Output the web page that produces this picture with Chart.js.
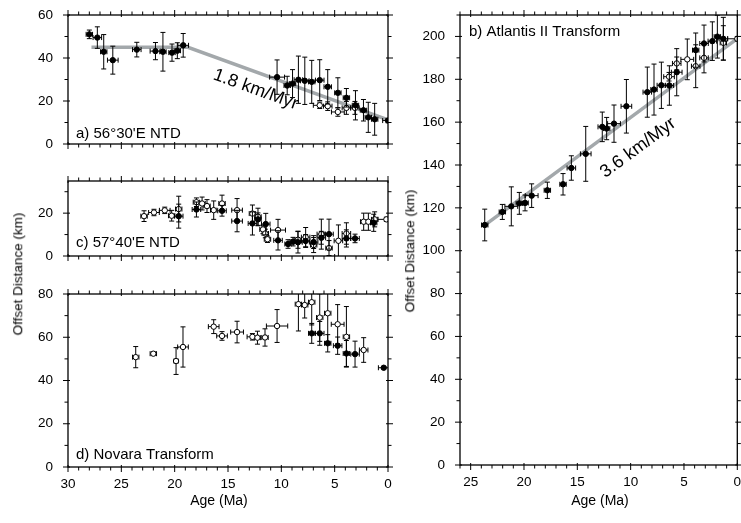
<!DOCTYPE html>
<html>
<head>
<meta charset="utf-8">
<script src="https://cdn.jsdelivr.net/npm/chart.js@4.4.0/dist/chart.umd.min.js"></script>
<style>
  html, body { margin: 0; padding: 0; background: #fff; }
  body { position: relative; width: 741px; height: 523px; overflow: hidden;
         font-family: "Liberation Sans", Arial, Helvetica, sans-serif; color: #000; }
  canvas { position: absolute; }
  .axis-title { position: absolute; white-space: nowrap; font-size: 14px; line-height: 1;
                transform: translate(-50%, -50%); }
  .axis-title.vertical { transform: translate(-50%, -50%) rotate(-90deg); font-size: 13.5px; }
</style>
</head>
<body>
<canvas id="chartA" width="400" height="150" style="left:0;top:0"></canvas>
<canvas id="chartC" width="400" height="95" style="left:0;top:170px"></canvas>
<canvas id="chartD" width="400" height="243" style="left:0;top:280px"></canvas>
<canvas id="chartB" width="341" height="523" style="left:400px;top:0"></canvas>

<div class="axis-title vertical" style="left:18px;top:274px">Offset Distance (km)</div>
<div class="axis-title vertical" style="left:410px;top:251px">Offset Distance (km)</div>
<div class="axis-title" style="left:219px;top:500px">Age (Ma)</div>
<div class="axis-title" style="left:600px;top:500px">Age (Ma)</div>

<script>
// ---------- tick labels ----------
const leftAgeTicks  = [30, 25, 20, 15, 10, 5, 0];
const rightAgeTicks = [25, 20, 15, 10, 5, 0];
const aOffsetTicks  = [0, 20, 40, 60];
const cOffsetTicks  = [0, 20];
const dOffsetTicks  = [0, 20, 40, 60, 80];
const bOffsetTicks  = [0, 20, 40, 60, 80, 100, 120, 140, 160, 180, 200];

// ---------- a) 56°30'E NTD ----------
const aSolidAge       = [28.0, 27.25, 26.65, 25.8, 23.55, 21.8, 21.1, 20.25, 19.75, 19.2, 10.4, 9.45, 8.95, 8.4, 7.8, 7.15, 6.4, 5.65, 4.7, 3.9, 3.05, 2.3, 1.85, 1.25, 0.0];
const aSolidOffset    = [51.0, 49.5, 42.9, 39.0, 43.9, 43.2, 42.9, 42.5, 43.4, 45.9, 31.1, 27.2, 28.1, 29.9, 29.4, 28.9, 29.7, 26.6, 23.8, 21.5, 18.0, 15.7, 12.4, 11.5, 10.9];
const aSolidAgeErr    = [0.3, 0.4, 0.3, 0.5, 0.4, 0.5, 0.3, 0.3, 0.3, 0.5, 0.7, 0.3, 0.3, 0.4, 0.4, 0.3, 0.4, 0.35, 0.3, 0.3, 0.3, 0.3, 0.3, 0.3, 0.5];
const aSolidOffsetErr = [2, 5, 8, 6.5, 3.4, 4, 9, 4, 3.7, 5.5, 8, 4.3, 6.5, 11, 11, 10, 9.5, 8, 7, 4.3, 6.8, 5, 7, 7.4, 1];
const aOpenAge        = [6.4, 5.65, 4.7, 3.9, 3.1];
const aOpenOffset     = [18.0, 17.6, 14.9, 16.8, 16.8];
const aOpenAgeErr     = [0.6, 0.4, 0.6, 0.4, 0.4];
const aOpenOffsetErr  = [1.5, 2, 2, 3, 3];
const aFitAge         = [27.8, 18.75, 0];
const aFitOffset      = [45, 45, 11.25];

// ---------- c) 57°40'E NTD ----------
const cSolidAge       = [19.62, 17.96, 15.56, 14.15, 12.71, 12.19, 11.46, 10.31, 9.37, 8.9, 8.44, 7.72, 6.97, 6.25, 5.53, 3.9, 3.09, 1.34];
const cSolidOffset    = [18.6, 21.7, 21.1, 16.3, 15.2, 17.1, 14.9, 7.3, 5.6, 6.7, 6.4, 7.0, 6.5, 8.5, 10.2, 8.2, 8.2, 15.5];
const cSolidAgeErr    = [0.4, 0.4, 0.4, 0.5, 0.4, 0.3, 0.4, 0.4, 0.3, 0.3, 0.4, 0.4, 0.4, 0.4, 0.4, 0.4, 0.4, 0.3];
const cSolidOffsetErr = [5.6, 3.5, 2.5, 5, 5.4, 3, 5, 4.5, 2, 2, 5, 3, 3, 3, 7, 4, 2, 4];
const cOpenAge        = [22.87, 21.94, 20.93, 20.28, 19.62, 17.96, 17.43, 16.97, 16.34, 15.56, 14.15, 12.71, 12.19, 11.72, 11.5, 11.3, 10.31, 8.44, 7.72, 6.97, 6.25, 5.53, 4.65, 3.9, 2.28, 1.84, 1.25, 0.15];
const cOpenOffset     = [18.6, 20.3, 21.3, 18.8, 21.9, 25.1, 24.5, 23.3, 21.4, 24.5, 21.4, 19.8, 18.3, 12.4, 10.5, 7.8, 12.1, 7.6, 8.8, 5.1, 10.2, 3.7, 7.1, 10.5, 16.0, 16.0, 17.1, 17.1];
const cOpenAgeErr     = [0.3, 0.5, 0.5, 0.3, 0.3, 0.3, 0.3, 0.3, 0.3, 0.3, 0.5, 0.3, 0.3, 0.3, 0.3, 0.3, 0.7, 0.3, 0.4, 0.3, 0.4, 0.3, 0.4, 0.4, 0.3, 0.3, 0.3, 0.8];
const cOpenOffsetErr  = [2.5, 1.5, 1.5, 2.5, 6, 2, 3, 3, 4.3, 3.9, 5.4, 4, 4, 2, 2, 1.5, 5, 4, 4.5, 3.5, 7, 3.5, 7.4, 5, 4, 4, 3.5, 1];

// ---------- d) Novara Transform ----------
const dSolidAge       = [7.15, 6.4, 5.65, 4.72, 3.9, 3.09, 0.4];
const dSolidOffset    = [61.8, 61.8, 57.2, 56.1, 52.5, 52.2, 45.9];
const dSolidAgeErr    = [0.3, 0.4, 0.3, 0.4, 0.3, 0.4, 0.5];
const dSolidOffsetErr = [4.6, 5.5, 4, 4, 6, 6, 0.5];
const dOpenAge        = [23.65, 22.0, 19.87, 19.22, 16.34, 15.56, 14.15, 12.71, 12.24, 11.53, 10.4, 8.4, 7.81, 7.15, 6.4, 5.65, 4.72, 3.9, 2.28];
const dOpenOffset     = [50.8, 52.4, 49.0, 55.5, 64.9, 60.6, 62.4, 60.2, 59.8, 59.9, 65.2, 75.3, 74.9, 76.2, 69.1, 71.1, 66.0, 60.2, 54.1];
const dOpenAgeErr     = [0.3, 0.3, 0.2, 0.5, 0.5, 0.5, 0.6, 0.5, 0.3, 0.3, 1.0, 0.3, 0.3, 0.3, 0.3, 0.3, 0.6, 0.3, 0.4];
const dOpenOffsetErr  = [4.9, 0.8, 6.2, 9.3, 3.2, 2, 5, 1.5, 3, 4, 7.6, 12.4, 6, 10.5, 11, 13, 9.1, 14, 5.7];

// ---------- b) Atlantis II Transform ----------
const bSolidAge       = [23.68, 22.03, 21.19, 20.44, 19.9, 19.28, 17.81, 16.34, 15.56, 14.21, 12.66, 12.25, 11.56, 10.4, 8.44, 7.81, 7.12, 6.37, 5.68, 3.9, 3.12, 2.34, 1.87, 1.31];
const bSolidOffset    = [112.0, 118.1, 120.7, 122.1, 122.3, 125.7, 128.2, 131.0, 138.6, 145.2, 157.8, 157.0, 159.3, 167.4, 174.0, 175.2, 177.2, 177.1, 183.3, 193.6, 196.7, 197.8, 199.9, 198.9];
const bSolidAgeErr    = [0.3, 0.3, 0.6, 0.3, 0.3, 0.6, 0.3, 0.3, 0.4, 0.5, 0.4, 0.3, 0.6, 0.5, 0.4, 0.3, 0.4, 0.4, 0.5, 0.3, 0.4, 0.4, 0.3, 0.4];
const bSolidOffsetErr = [7.4, 3.5, 9.1, 5.1, 3.7, 5.5, 3.8, 5, 5.7, 12.8, 6.9, 5.2, 8.7, 12.5, 11.7, 11.9, 10.8, 9.2, 11, 8, 8.6, 9, 10, 10];
const bOpenAge        = [6.4, 5.68, 4.69, 3.9, 3.12, 1.31, 0.0];
const bOpenOffset     = [181.2, 187.4, 189.3, 186.1, 190.0, 197.0, 198.9];
const bOpenAgeErr     = [0.5, 0.4, 0.6, 0.4, 0.4, 0.3, 0.9];
const bOpenOffsetErr  = [2, 3, 9.5, 10, 7, 8, 1];
const bFitAge         = [23.8, 0];
const bFitOffset      = [111.5, 199];

// ---------- shared look ----------
const FONT = '"Liberation Sans", Arial, Helvetica, sans-serif';
Chart.defaults.font.family = FONT;
Chart.defaults.color = '#000';
Chart.defaults.animation = false;
const FIT_GREY = 'rgb(163,168,171)';

const pts = (xs, ys) => xs.map((x, i) => ({ x, y: ys[i] }));

function markerSet(age, off, ageErr, offErr, open) {
  return {
    type: 'scatter', data: pts(age, off), xErr: ageErr, yErr: offErr,
    pointRadius: 2.7, pointHoverRadius: 2.7,
    pointBackgroundColor: open ? '#fff' : '#000',
    pointBorderColor: '#000', pointBorderWidth: 1
  };
}
function fitSet(age, off) {
  return {
    type: 'line', data: pts(age, off), borderColor: FIT_GREY, borderWidth: 3.5,
    pointRadius: 0, fill: false, tension: 0
  };
}

// error bars under each marker series, clipped to the plot box
const errorBars = {
  id: 'errorBars',
  beforeDatasetDraw(chart, args) {
    const ds = chart.data.datasets[args.index];
    if (!ds.yErr) return;
    const { ctx, chartArea: a, scales: { x, y } } = chart;
    const cap = 2.5;
    ctx.save();
    ctx.beginPath();
    ctx.rect(a.left, a.top, a.right - a.left, a.bottom - a.top);
    ctx.clip();
    ctx.strokeStyle = '#000';
    ctx.lineWidth = 1;
    ds.data.forEach((p, i) => {
      const px = x.getPixelForValue(p.x), py = y.getPixelForValue(p.y);
      const ey = ds.yErr[i], ex = ds.xErr[i];
      ctx.beginPath();
      if (ey) {
        const y0 = y.getPixelForValue(p.y - ey), y1 = y.getPixelForValue(p.y + ey);
        ctx.moveTo(px, y0); ctx.lineTo(px, y1);
        ctx.moveTo(px - cap, y0); ctx.lineTo(px + cap, y0);
        ctx.moveTo(px - cap, y1); ctx.lineTo(px + cap, y1);
      }
      if (ex) {
        const x0 = x.getPixelForValue(p.x - ex), x1 = x.getPixelForValue(p.x + ex);
        ctx.moveTo(x0, py); ctx.lineTo(x1, py);
        ctx.moveTo(x0, py - cap); ctx.lineTo(x0, py + cap);
        ctx.moveTo(x1, py - cap); ctx.lineTo(x1, py + cap);
      }
      ctx.stroke();
    });
    ctx.restore();
  }
};

// box around the plot with outward ticks on all four sides
const frame = {
  id: 'frame',
  afterDatasetsDraw(chart, args, o) {
    if (!o.xMinor) return;
    const { ctx, chartArea: a, scales: { x, y } } = chart;
    const steps = (min, max, st) => {
      const r = [];
      for (let v = Math.ceil(min / st - 1e-9) * st; v <= max + 1e-9; v += st) r.push(+v.toFixed(6));
      return r;
    };
    const isMajor = (v, m) => Math.abs(v / m - Math.round(v / m)) < 1e-6;
    ctx.save();
    ctx.strokeStyle = '#000';
    ctx.lineWidth = 1;
    ctx.beginPath();
    for (const v of steps(x.min, x.max, o.xMinor)) {
      const px = x.getPixelForValue(v);
      const mj = isMajor(v, o.xMajor), out = mj ? 5 : 3.5, inn = mj ? 2 : 0;
      ctx.moveTo(px, a.bottom - inn); ctx.lineTo(px, a.bottom + out);
      ctx.moveTo(px, a.top + inn); ctx.lineTo(px, a.top - out);
    }
    for (const v of steps(y.min, y.max, o.yMinor)) {
      const py = y.getPixelForValue(v);
      const mj = isMajor(v, o.yMajor), out = mj ? 5 : 3.5, inn = mj ? 2 : 0;
      ctx.moveTo(a.left + inn, py); ctx.lineTo(a.left - out, py);
      ctx.moveTo(a.right - inn, py); ctx.lineTo(a.right + out, py);
    }
    ctx.stroke();
    ctx.lineWidth = 1.3;
    ctx.strokeRect(a.left, a.top, a.right - a.left, a.bottom - a.top);
    ctx.restore();
  }
};

// panel caption inside the plot box
const panelTag = {
  id: 'panelTag',
  afterDraw(chart, args, o) {
    if (!o.text) return;
    const { ctx, chartArea: a } = chart;
    ctx.save();
    ctx.font = '15px ' + FONT;
    ctx.fillStyle = '#000';
    ctx.textBaseline = 'alphabetic';
    ctx.fillText(o.text, a.left + o.dx, o.fromTop ? a.top + o.dy : a.bottom - o.dy);
    ctx.restore();
  }
};

// rate label laid along a segment of the fitted line
const slopeTag = {
  id: 'slopeTag',
  afterDatasetsDraw(chart, args, o) {
    if (!o.text) return;
    const { ctx, scales: { x, y } } = chart;
    const fit = chart.data.datasets[o.fitIndex].data;
    const p0 = fit[o.seg], p1 = fit[o.seg + 1];
    const ang = Math.atan2(y.getPixelForValue(p1.y) - y.getPixelForValue(p0.y),
                           x.getPixelForValue(p1.x) - x.getPixelForValue(p0.x));
    ctx.save();
    ctx.translate(x.getPixelForValue(o.at[0]), y.getPixelForValue(o.at[1]));
    ctx.rotate(ang);
    ctx.font = '18px ' + FONT;
    ctx.fillStyle = '#000';
    ctx.textAlign = 'center';
    ctx.textBaseline = 'middle';
    ctx.fillText(o.text, 0, 0);
    ctx.restore();
  }
};

Chart.register(errorBars, frame, panelTag, slopeTag);

function ageAxis(max, ticks, showLabels, axisHeight) {
  return {
    type: 'linear', position: 'bottom', min: 0, max, reverse: true, display: showLabels,
    grid: { display: false, drawTicks: false }, border: { display: false },
    ticks: { padding: 9, font: { size: 13.5 }, autoSkip: false, maxRotation: 0 },
    afterBuildTicks: s => { s.ticks = ticks.map(v => ({ value: v })); },
    afterFit: s => { s.height = axisHeight; s.paddingLeft = 0; s.paddingRight = 0; }
  };
}
function offsetAxis(max, ticks, axisWidth) {
  return {
    type: 'linear', position: 'left', min: 0, max,
    grid: { display: false, drawTicks: false }, border: { display: false },
    ticks: { padding: 15, font: { size: 13.5 }, autoSkip: false },
    afterBuildTicks: s => { s.ticks = ticks.map(v => ({ value: v })); },
    afterFit: s => { s.width = axisWidth; s.paddingTop = 0; s.paddingBottom = 0; }
  };
}
function baseOptions(padding, scales, plugins) {
  return {
    responsive: false, animation: false, events: [],
    layout: { padding },
    scales,
    plugins: Object.assign({ legend: { display: false }, tooltip: { enabled: false } }, plugins)
  };
}

// a) 56°30'E NTD
new Chart(document.getElementById('chartA'), {
  type: 'scatter',
  data: { datasets: [
    markerSet(aSolidAge, aSolidOffset, aSolidAgeErr, aSolidOffsetErr, false),
    markerSet(aOpenAge, aOpenOffset, aOpenAgeErr, aOpenOffsetErr, true),
    fitSet(aFitAge, aFitOffset)
  ] },
  options: baseOptions({ left: 0, right: 12, top: 15, bottom: 6 },
    { x: ageAxis(30, leftAgeTicks, false, 0), y: offsetAxis(60, aOffsetTicks, 68) },
    { frame: { xMinor: 1, xMajor: 5, yMinor: 10, yMajor: 20 },
      panelTag: { text: "a) 56°30'E NTD", dx: 8, dy: 6 },
      slopeTag: { text: '1.8 km/Myr', fitIndex: 2, seg: 1, at: [12.4, 25.3] } })
});

// c) 57°40'E NTD
new Chart(document.getElementById('chartC'), {
  type: 'scatter',
  data: { datasets: [
    markerSet(cSolidAge, cSolidOffset, cSolidAgeErr, cSolidOffsetErr, false),
    markerSet(cOpenAge, cOpenOffset, cOpenAgeErr, cOpenOffsetErr, true)
  ] },
  options: baseOptions({ left: 0, right: 12, top: 11, bottom: 9 },
    { x: ageAxis(30, leftAgeTicks, false, 0), y: offsetAxis(35, cOffsetTicks, 68) },
    { frame: { xMinor: 1, xMajor: 5, yMinor: 10, yMajor: 20 },
      panelTag: { text: "c) 57°40'E NTD", dx: 8, dy: 9 } })
});

// d) Novara Transform
new Chart(document.getElementById('chartD'), {
  type: 'scatter',
  data: { datasets: [
    markerSet(dSolidAge, dSolidOffset, dSolidAgeErr, dSolidOffsetErr, false),
    markerSet(dOpenAge, dOpenOffset, dOpenAgeErr, dOpenOffsetErr, true)
  ] },
  options: baseOptions({ left: 0, right: 12, top: 14, bottom: 0 },
    { x: ageAxis(30, leftAgeTicks, true, 56), y: offsetAxis(80, dOffsetTicks, 68) },
    { frame: { xMinor: 1, xMajor: 5, yMinor: 10, yMajor: 20 },
      panelTag: { text: 'd) Novara Transform', dx: 8, dy: 8.5 } })
});

// b) Atlantis II Transform
new Chart(document.getElementById('chartB'), {
  type: 'scatter',
  data: { datasets: [
    markerSet(bSolidAge, bSolidOffset, bSolidAgeErr, bSolidOffsetErr, false),
    markerSet(bOpenAge, bOpenOffset, bOpenAgeErr, bOpenOffsetErr, true),
    fitSet(bFitAge, bFitOffset)
  ] },
  options: baseOptions({ left: 0, right: 3, top: 15, bottom: 0 },
    { x: ageAxis(26, rightAgeTicks, true, 58), y: offsetAxis(210, bOffsetTicks, 60) },
    { frame: { xMinor: 1, xMajor: 5, yMinor: 10, yMajor: 20 },
      panelTag: { text: 'b) Atlantis II Transform', dx: 9, dy: 21, fromTop: true },
      slopeTag: { text: '3.6 km/Myr', fitIndex: 2, seg: 0, at: [9.3, 148] } })
});
</script>
</body>
</html>
